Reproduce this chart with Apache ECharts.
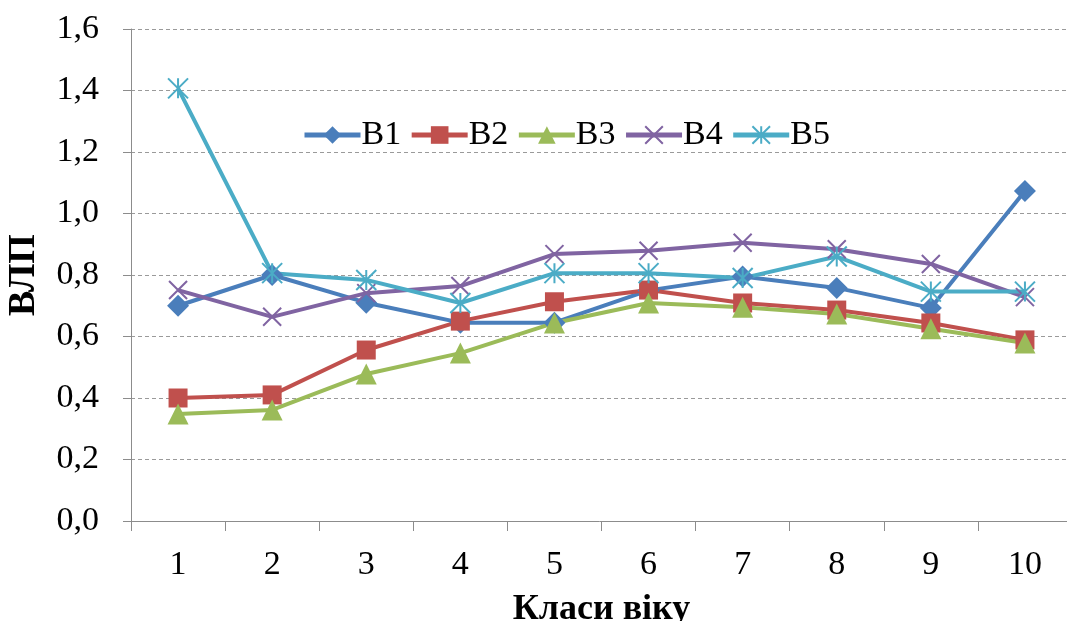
<!DOCTYPE html>
<html>
<head>
<meta charset="utf-8">
<script src="https://cdn.jsdelivr.net/npm/echarts@6/dist/echarts.min.js"></script>
<style>
  html, body { margin: 0; padding: 0; background: #fff; }
  #chart { width: 1067px; height: 621px; }
</style>
</head>
<body>
<div id="chart"></div>
<script>
// Age classes on the x axis
const categories = ['1', '2', '3', '4', '5', '6', '7', '8', '9', '10'];

// ВЛП values per series
const seriesNames = ['В1', 'В2', 'В3', 'В4', 'В5'];
const v1 = [0.70, 0.80, 0.71, 0.645, 0.645, 0.75, 0.795, 0.758, 0.693, 1.073];
const v2 = [0.40, 0.41, 0.556, 0.65, 0.713, 0.751, 0.709, 0.686, 0.644, 0.589];
const v3 = [0.348, 0.361, 0.478, 0.546, 0.644, 0.709, 0.695, 0.673, 0.625, 0.579];
const v4 = [0.751, 0.664, 0.741, 0.764, 0.868, 0.879, 0.905, 0.884, 0.836, 0.728];
const v5 = [1.407, 0.806, 0.784, 0.709, 0.806, 0.806, 0.790, 0.860, 0.746, 0.746];

// Y axis range
const yMin = 0, yMax = 1.6, yStep = 0.2;

const colors = ['#4A7EBB', '#C0504D', '#9BBB59', '#8064A2', '#4BACC6'];
const FONT = '"Liberation Serif", "DejaVu Serif", serif';

const crossPath = 'path://M0,0L10,10M10,0L0,10';
const starPath = 'path://M5,0L5,10M0,0L10,10M10,0L0,10';

function lineSeries(name, data, color, symbol, size, open) {
  return {
    name: name,
    type: 'line',
    data: data,
    symbol: symbol,
    symbolSize: size,
    showAllSymbol: true,
    lineStyle: { color: color, width: 4 },
    itemStyle: open
      ? { color: 'rgba(0,0,0,0)', borderColor: color, borderWidth: 2 }
      : { color: color, borderColor: color, borderWidth: 0 },
    emphasis: { disabled: true },
    animation: false
  };
}

const chart = echarts.init(document.getElementById('chart'), null, { renderer: 'canvas' });
chart.setOption({
  backgroundColor: '#ffffff',
  animation: false,
  color: colors,
  grid: { left: 131, right: -5, top: 29, bottom: 100, containLabel: false, outerBoundsMode: 'none' },
  legend: {
    left: 297,
    top: 113,
    itemWidth: 56,
    itemHeight: 22,
    itemGap: 8,
    lineStyle: { width: 5 },
    textStyle: { fontFamily: FONT, fontSize: 34, color: '#000', padding: [0, 0, 0, -4] },
    data: seriesNames
  },
  xAxis: {
    type: 'category',
    data: categories,
    boundaryGap: true,
    name: 'Класи віку',
    nameLocation: 'middle',
    nameGap: 71,
    nameTextStyle: { fontFamily: FONT, fontSize: 36, fontWeight: 'bold', color: '#000' },
    axisLine: { lineStyle: { color: '#8c8c8c', width: 1 } },
    axisTick: { show: true, length: 10, lineStyle: { color: '#8c8c8c' } },
    axisLabel: { fontFamily: FONT, fontSize: 34, color: '#000', margin: 27 },
    splitLine: { show: false }
  },
  yAxis: {
    type: 'value',
    min: yMin,
    max: yMax,
    interval: yStep,
    name: 'ВЛП',
    nameLocation: 'middle',
    nameGap: 88,
    nameRotate: 90,
    nameTextStyle: { fontFamily: FONT, fontSize: 38, fontWeight: 'bold', color: '#000' },
    axisLine: { show: true, lineStyle: { color: '#8c8c8c', width: 1 } },
    axisTick: { show: true, length: 8, inside: false, lineStyle: { color: '#8c8c8c' } },
    axisLabel: {
      fontFamily: FONT, fontSize: 34, color: '#000', margin: 32,
      formatter: v => v.toFixed(1).replace('.', ',')
    },
    splitLine: { show: true, lineStyle: { color: '#9a9a9a', type: [4, 3], width: 1 } }
  },
  series: [
    lineSeries(seriesNames[0], v1, colors[0], 'diamond', 22, false),
    lineSeries(seriesNames[1], v2, colors[1], 'rect', 19, false),
    lineSeries(seriesNames[2], v3, colors[2], 'triangle', 21, false),
    lineSeries(seriesNames[3], v4, colors[3], crossPath, 18, true),
    lineSeries(seriesNames[4], v5, colors[4], starPath, 20, true)
  ]
});
</script>
</body>
</html>
